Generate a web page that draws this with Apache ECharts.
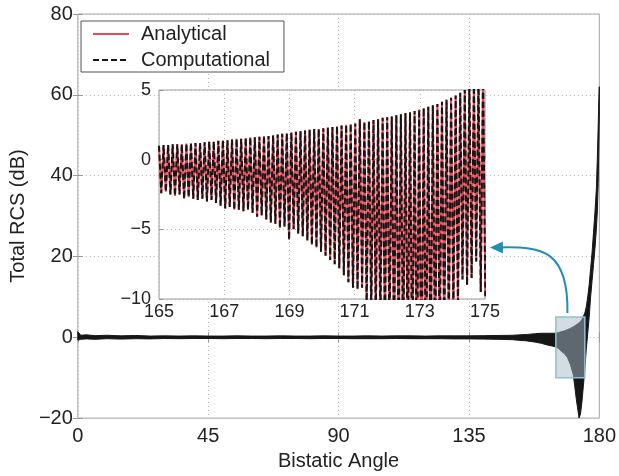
<!DOCTYPE html>
<html>
<head>
<meta charset="utf-8">
<script src="https://cdn.jsdelivr.net/npm/echarts@6/dist/echarts.min.js"></script>
<style>
html, body { margin: 0; padding: 0; background: #fff; }
#rcs { width: 619px; height: 476px; }
</style>
</head>
<body>
<div id="rcs"></div>
<script>
//主图：总RCS包络（上下沿）
var bandX = [0, 1, 3, 6, 10, 15, 20, 25, 30, 35, 40, 45, 50, 55, 60, 65, 70, 75, 80, 85, 90, 95, 100, 105, 110, 115, 120, 125, 130, 135, 140, 145, 150, 155, 158, 160, 162, 164, 165, 166, 167, 168, 169, 170, 171, 171.5, 172, 172.5, 173, 173.5, 174, 174.5, 175, 175.5, 176, 176.5, 177, 177.5, 178, 178.5, 179, 179.3, 179.6, 179.8, 180];
var bandUpper = [1.4, 0.5, 0.6, 0.4, 0.5, 0.35, 0.45, 0.3, 0.35, 0.3, 0.35, 0.3, 0.3, 0.35, 0.3, 0.3, 0.35, 0.3, 0.3, 0.35, 0.3, 0.3, 0.35, 0.3, 0.35, 0.35, 0.3, 0.35, 0.35, 0.35, 0.4, 0.45, 0.5, 0.7, 0.9, 1.0, 1.0, 1.0, 1.0, 1.2, 1.4, 1.6, 1.9, 2.2, 2.6, 2.8, 3.1, 3.3, 3.6, 3.9, 4.4, 5.2, 6.0, 7.5, 10, 13, 17, 21, 26, 31, 37, 44, 52, 58, 62];
var bandLower = [-0.7, -0.5, -0.4, -0.5, -0.35, -0.45, -0.35, -0.4, -0.3, -0.35, -0.3, -0.3, -0.35, -0.3, -0.3, -0.35, -0.3, -0.3, -0.35, -0.3, -0.3, -0.35, -0.35, -0.35, -0.3, -0.35, -0.35, -0.35, -0.4, -0.4, -0.45, -0.5, -0.6, -0.9, -1.2, -1.5, -1.9, -2.2, -2.4, -2.8, -3.5, -4.1, -5.0, -6.7, -9.2, -12, -15, -17.5, -20, -19, -16, -12, -8, -3, 1, 5, 10, 14, 18, 22, 27, 31, 38, 46, 55];

//放大区域：165°-175° 的峰值和谷值
var zoomRange = [165, 175];
var zoomBox = [[165, 5], [175, -10]];
var insetStart = 165;
var insetHalfStep = 0.07;
var insetPeaks = [1.0, 1.05, 1.05, 1.1, 1.1, 1.1, 1.15, 1.2, 1.2, 1.2, 1.25, 1.3, 1.3, 1.35, 1.4, 1.4, 1.45, 1.5, 1.5, 1.55, 1.6, 1.6, 1.65, 1.7, 1.7, 1.75, 1.8, 1.85, 1.9, 1.95, 2.0, 2.05, 2.1, 2.15, 2.2, 2.2, 2.25, 2.3, 2.35, 2.4, 2.45, 2.5, 2.55, 2.6, 2.9, 2.7, 2.75, 2.85, 2.9, 3.0, 3.05, 3.1, 3.2, 3.25, 3.35, 3.4, 3.5, 3.6, 3.7, 3.8, 3.9, 4.0, 4.15, 4.3, 4.45, 4.6, 4.8, 5.0, 5.3, 5.6, 5.9, 6.2];
var insetTroughs = [-2.4, -2.3, -2.5, -2.6, -2.5, -2.8, -2.7, -2.8, -2.9, -2.8, -3.0, -2.9, -3.1, -3.3, -3.5, -3.4, -3.6, -3.6, -3.7, -3.6, -3.8, -4.1, -4.0, -4.3, -4.5, -4.6, -4.9, -4.8, -5.75, -5.0, -5.3, -5.5, -5.8, -6.1, -6.3, -6.6, -6.9, -7.2, -7.5, -7.8, -8.3, -8.8, -9.2, -9.3, -9.2, -10.5, -11, -11.5, -12, -12.5, -13, -13.5, -14, -14.5, -15, -16, -17, -18, -17, -16, -15, -14, -13, -12, -11, -10.5, -8.6, -9.0, -8.5, -7.3, -9.5, -9.8];

var fontName = "'Liberation Sans', Arial, sans-serif";
var red = "#f04555";
var dark = "#161616";

//放大区的锯齿曲线
var insetData = [];
for (var j = 0; j < insetPeaks.length; j++) {
    insetData.push([insetStart + 2 * j * insetHalfStep, insetPeaks[j]]);
    insetData.push([insetStart + (2 * j + 1) * insetHalfStep, insetTroughs[j]]);
}

function minus(v) {
    return String(v).replace("-", "\u2212");
}

//包络多边形
function renderBand(params, api) {
    var pts = [];
    for (var i = 0; i < bandX.length; i++) {
        pts.push(api.coord([bandX[i], bandUpper[i]]));
    }
    for (var k = bandX.length - 1; k >= 0; k--) {
        pts.push(api.coord([bandX[k], bandLower[k]]));
    }
    return {
        type: "polygon",
        shape: { points: pts },
        style: { fill: dark, stroke: dark, lineWidth: 1 }
    };
}

var rcsChart = echarts.init(document.getElementById("rcs"));

var option = {
    animation: false,
    textStyle: { fontFamily: fontName },
    legend: {
        left: 81,
        top: 21,
        orient: "vertical",
        data: ["Analytical", "Computational"],
        itemWidth: 36,
        itemHeight: 14,
        itemGap: 6,
        padding: [3, 14, 2, 11],
        borderColor: "#555",
        borderWidth: 1,
        backgroundColor: "#fff",
        itemStyle: { opacity: 0 },
        z: 20,
        textStyle: {
            fontSize: 20,
            color: "#222",
            fontFamily: fontName,
            padding: [0, 0, 0, 7]
        }
    },
    grid: [
        {
            left: 75,
            top: 14,
            right: 19,
            bottom: 52,
            show: true,
            borderColor: "#a6a6a6",
            borderWidth: 1
        },
        {
            left: 159,
            top: 90,
            width: 326,
            height: 209,
            show: true,
            backgroundColor: "#fff",
            borderColor: "#9a9a9a",
            borderWidth: 1,
            z: 10
        }
    ],
    xAxis: [
        {
            type: "value",
            gridIndex: 0,
            min: 0,
            max: 180,
            interval: 45,
            name: "Bistatic Angle",
            nameLocation: "middle",
            nameGap: 30,
            nameTextStyle: { fontSize: 20, color: "#222", fontFamily: fontName },
            axisLine: { show: false },
            axisTick: { inside: true, length: 5, lineStyle: { color: "#999" } },
            axisLabel: { fontSize: 20, color: "#222", margin: 8, fontFamily: fontName },
            splitLine: { lineStyle: { color: "#b5b5b5", type: [1, 3] } }
        },
        {
            type: "value",
            gridIndex: 1,
            min: 165,
            max: 175,
            interval: 2,
            z: 11,
            axisLine: { show: false },
            axisTick: { inside: true, length: 4, lineStyle: { color: "#999" } },
            axisLabel: { fontSize: 18, color: "#222", margin: 4, fontFamily: fontName },
            splitLine: { lineStyle: { color: "#b5b5b5", type: [1, 3] } }
        },
        {
            type: "value",
            gridIndex: 0,
            position: "top",
            min: 0,
            max: 180,
            interval: 45,
            axisLine: { show: false },
            axisTick: { inside: true, length: 5, lineStyle: { color: "#999" } },
            axisLabel: { show: false },
            splitLine: { show: false }
        }
    ],
    yAxis: [
        {
            type: "value",
            gridIndex: 0,
            min: -20,
            max: 80,
            interval: 20,
            name: "Total RCS (dB)",
            nameLocation: "middle",
            nameGap: 46,
            nameTextStyle: { fontSize: 20, color: "#222", fontFamily: fontName },
            axisLine: { show: false },
            axisTick: { inside: true, length: 5, lineStyle: { color: "#999" } },
            axisLabel: { fontSize: 20, color: "#222", margin: 5, fontFamily: fontName, formatter: minus },
            splitLine: { lineStyle: { color: "#b5b5b5", type: [1, 3] } }
        },
        {
            type: "value",
            gridIndex: 1,
            min: -10,
            max: 5,
            interval: 5,
            z: 11,
            axisLine: { show: false },
            axisTick: { inside: true, length: 4, lineStyle: { color: "#999" } },
            axisLabel: { fontSize: 18, color: "#222", margin: 8, fontFamily: fontName, formatter: minus },
            splitLine: { lineStyle: { color: "#b5b5b5", type: [1, 3] } }
        },
        {
            type: "value",
            gridIndex: 0,
            position: "right",
            min: -20,
            max: 80,
            interval: 20,
            axisLine: { show: false },
            axisTick: { inside: true, length: 5, lineStyle: { color: "#999" } },
            axisLabel: { show: false },
            splitLine: { show: false }
        }
    ],
    series: [
        {
            name: "envelope",
            type: "custom",
            xAxisIndex: 0,
            yAxisIndex: 0,
            silent: true,
            clip: true,
            renderItem: renderBand,
            data: [0],
            z: 2
        },
        {
            name: "zoomBox",
            type: "line",
            xAxisIndex: 0,
            yAxisIndex: 0,
            symbol: "none",
            silent: true,
            lineStyle: { opacity: 0 },
            data: [[zoomRange[0], 0]],
            z: 4,
            markArea: {
                silent: true,
                z: 6,
                itemStyle: {
                    color: "rgba(170,186,200,0.5)",
                    borderColor: "#8fc0d4",
                    borderWidth: 1.5
                },
                data: [[{ coord: zoomBox[0] }, { coord: zoomBox[1] }]]
            }
        },
        {
            name: "Analytical",
            type: "line",
            xAxisIndex: 1,
            yAxisIndex: 1,
            symbol: "none",
            lineStyle: { color: red, width: 2 },
            itemStyle: { color: red },
            data: insetData,
            z: 12
        },
        {
            name: "Computational",
            type: "line",
            xAxisIndex: 1,
            yAxisIndex: 1,
            symbol: "none",
            lineStyle: { color: dark, width: 2, type: [6, 3] },
            itemStyle: { color: dark },
            data: insetData,
            z: 13
        }
    ]
};

rcsChart.setOption(option);

//从方框指向放大图的箭头
var from = rcsChart.convertToPixel({ xAxisIndex: 0, yAxisIndex: 0 }, [169, 6]);
var to = rcsChart.convertToPixel({ xAxisIndex: 1, yAxisIndex: 1 }, [175.15, -6.3]);
rcsChart.setOption({
    graphic: [
        {
            type: "bezierCurve",
            z: 30,
            shape: {
                x1: from[0], y1: from[1],
                x2: to[0] + 10, y2: to[1],
                cpx1: from[0] + 1, cpy1: from[1] - 62,
                cpx2: from[0] - 24, cpy2: to[1] - 1
            },
            style: { stroke: "#1f8fb5", lineWidth: 2, fill: null }
        },
        {
            type: "polygon",
            z: 30,
            shape: {
                points: [[to[0], to[1]], [to[0] + 13, to[1] - 6], [to[0] + 13, to[1] + 6]]
            },
            style: { fill: "#1f8fb5" }
        }
    ]
});
</script>
</body>
</html>
